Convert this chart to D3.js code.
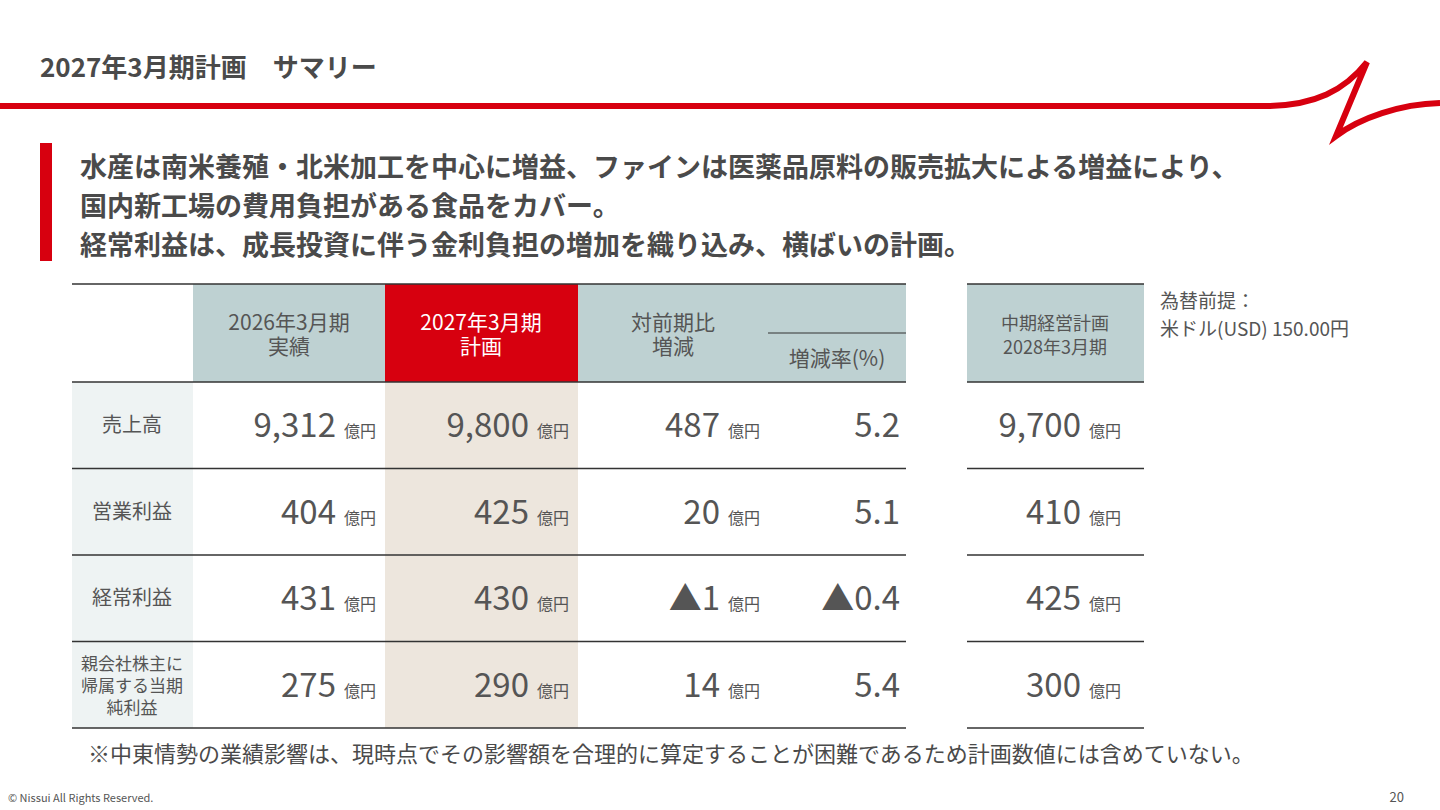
<!DOCTYPE html>
<html><head><meta charset="utf-8">
<script src="https://cdn.jsdelivr.net/npm/d3@7/dist/d3.min.js"></script>
<style>body{margin:0;background:#fff}svg{display:block;font-family:"Noto Sans CJK JP","Noto Sans",sans-serif}</style>
</head><body><svg id="c" width="1440" height="810"></svg>
<script>
const rowLabels=[["売上高"],["営業利益"],["経常利益"],["親会社株主に","帰属する当期","純利益"]];
const actual2026=["9,312","404","431","275"];
const plan2027=["9,800","425","430","290"];
const diff=["487","20","▲1","14"];
const rate=["5.2","5.1","▲0.4","5.4"];
const midPlan2028=["9,700","410","425","300"];
const headline=["水産は南米養殖・北米加工を中心に増益、ファインは医薬品原料の販売拡大による増益により、","国内新工場の費用負担がある食品をカバー。","経常利益は、成長投資に伴う金利負担の増加を織り込み、横ばいの計画。"];

(function(){
const svg=d3.select("#c");
const red="#d7000f", grey="#555";
svg.append("text").attr("x",40).attr("y",77).attr("font-size",26).attr("font-weight",700).attr("fill","#4a4a4a").text("2027年3月期計画　サマリー");
svg.append("path").attr("d","M0,106 L1265,106 C1315,106 1345,90 1367,62 L1336,136 C1360,118 1400,104 1440,103").attr("fill","none").attr("stroke",red).attr("stroke-width",6);
svg.append("rect").attr("x",40).attr("y",143).attr("width",12).attr("height",118).attr("fill",red);
headline.forEach((t,i)=>svg.append("text").attr("x",80).attr("y",177+i*39).attr("font-size",27).attr("font-weight",700).attr("fill","#4a4a4a").text(t));

const rowY=d3.scaleBand().domain(d3.range(4)).range([382,728]);
const topY=284, hb=382;
svg.append("rect").attr("x",193).attr("y",topY).attr("width",713).attr("height",hb-topY).attr("fill","#bed1d2");
svg.append("rect").attr("x",385).attr("y",topY).attr("width",193).attr("height",hb-topY).attr("fill",red);
svg.append("rect").attr("x",385).attr("y",hb).attr("width",193).attr("height",728-hb).attr("fill","#ede6dd");
svg.append("rect").attr("x",72).attr("y",hb).attr("width",121).attr("height",728-hb).attr("fill","#eef3f3");
svg.append("rect").attr("x",967).attr("y",topY).attr("width",177).attr("height",hb-topY).attr("fill","#bed1d2");
const line=(x1,x2,y,w)=>svg.append("line").attr("x1",x1).attr("x2",x2).attr("y1",y).attr("y2",y).attr("stroke","#333").attr("stroke-width",w||1.3);
line(72,906,topY);line(967,1144,topY);line(768,906,333,1);
[hb,...d3.range(4).map(i=>rowY(i)+rowY.bandwidth())].forEach(y=>{line(72,906,y);line(967,1144,y);});
const ht=(x,ys,lines,fill,size)=>lines.forEach((t,i)=>svg.append("text").attr("x",x).attr("y",ys+i*24).attr("text-anchor","middle").attr("font-size",size||21).attr("fill",fill).text(t));
ht(289,330,["2026年3月期","実績"],grey);
ht(481,330,["2027年3月期","計画"],"#fff");
ht(673,330,["対前期比","増減"],grey);
ht(837,366,["増減率(%)"],grey);
ht(1055,330,["中期経営計画","2028年3月期"],grey,18);
svg.append("text").attr("x",1160).attr("y",308).attr("font-size",19).attr("fill",grey).text("為替前提：");
svg.append("text").attr("x",1160).attr("y",336).attr("font-size",19).attr("fill",grey).text("米ドル(USD) 150.00円");
const num=(xr,y,v,unit)=>{
  const g=svg.append("text").attr("x",xr).attr("y",y).attr("text-anchor","end").attr("fill",grey);
  g.append("tspan").attr("font-size",33).text(v);
  if(unit) g.append("tspan").attr("font-size",16).attr("dx",8).text("億円");
};
d3.range(4).forEach(i=>{
  const cy=rowY(i)+rowY.bandwidth()/2;
  const L=rowLabels[i], fs=L.length>1?17:20;
  L.forEach((t,j)=>svg.append("text").attr("x",132).attr("y",cy+7+(j-(L.length-1)/2)*22).attr("text-anchor","middle").attr("font-size",fs).attr("fill",grey).text(t));
  num(376,cy+12,actual2026[i],1);
  num(569,cy+12,plan2027[i],1);
  num(760,cy+12,diff[i],1);
  num(900,cy+12,rate[i],0);
  num(1121,cy+12,midPlan2028[i],1);
});
svg.append("text").attr("x",88).attr("y",762).attr("font-size",22).attr("fill","#4a4a4a").text("※中東情勢の業績影響は、現時点でその影響額を合理的に算定することが困難であるため計画数値には含めていない。");
svg.append("text").attr("x",8).attr("y",802).attr("font-size",11).attr("fill",grey).text("© Nissui All Rights Reserved.");
svg.append("text").attr("x",1404).attr("y",802).attr("font-size",13).attr("text-anchor","end").attr("fill",grey).text("20");
})();
</script></body></html>
